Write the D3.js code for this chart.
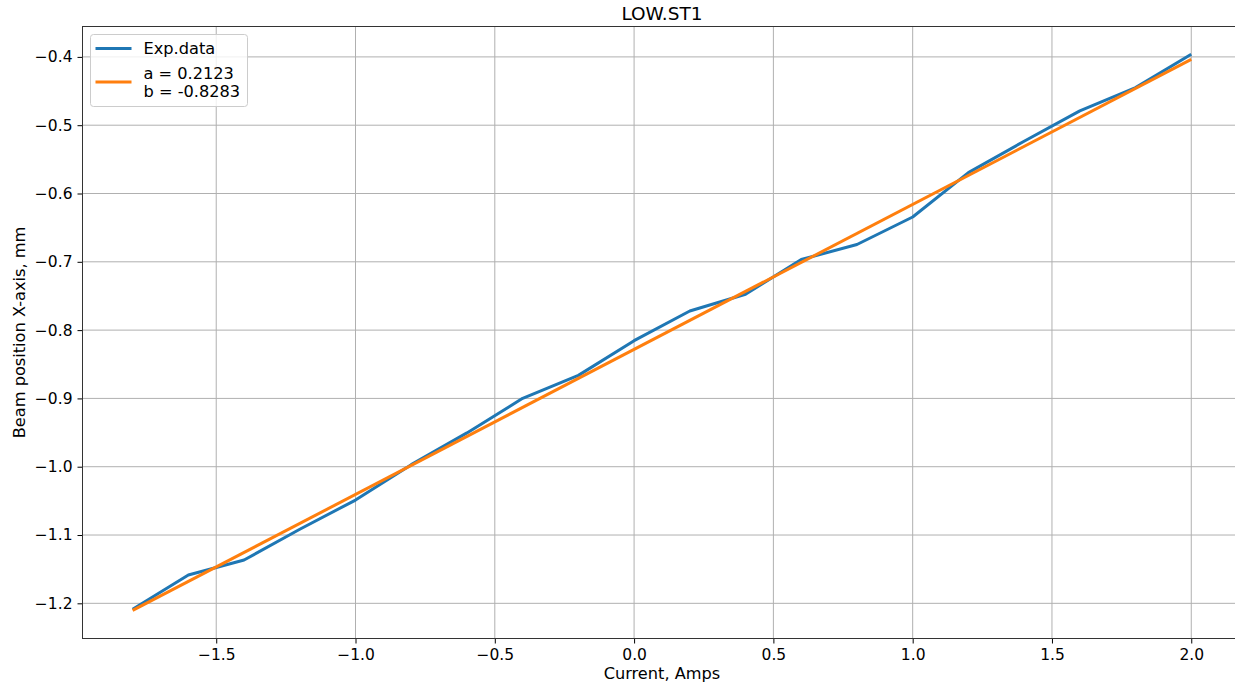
<!DOCTYPE html>
<html lang="en">
  <head>
    <meta charset="UTF-8" />
    <title>LOW.ST1</title>
    <script src="https://d3js.org/d3.v7.min.js"></script>
    <style>
      body {
        margin: 0;
        background: #fff;
        font-family: "DejaVu Sans", sans-serif;
      }
      svg {
        display: block;
      }
      .tick text {
        font-size: 15.5px;
        fill: #000;
      }
    </style>
  </head>
  <body>
    <div id="chart"></div>
    <script>
      // measured data (current in Amps, beam position in mm)
      const current = [
        -1.8, -1.6, -1.4, -1.2, -1.0, -0.8, -0.6, -0.4, -0.2, 0.0, 0.2, 0.4,
        0.6, 0.8, 1.0, 1.2, 1.4, 1.6, 1.8, 2.0,
      ];
      const position = [
        -1.2088, -1.1586, -1.1366, -1.0916, -1.0488, -0.997, -0.9505,
        -0.8999, -0.8663, -0.8155, -0.772, -0.7475, -0.6967, -0.6747,
        -0.6344, -0.5694, -0.5235, -0.479, -0.445, -0.3962,
      ];
      // fitted line end points (a = 0.2123, b = -0.8283)
      const fitX = [-1.8, 2.0];
      const fitY = [-1.2104, -0.4037];
      const fitLabel = ["a = 0.2123", "b = -0.8283"];

      const xTicks = [-1.5, -1.0, -0.5, 0.0, 0.5, 1.0, 1.5, 2.0];
      const yTicks = [-1.2, -1.1, -1.0, -0.9, -0.8, -0.7, -0.6, -0.5, -0.4];

      const W = 1235,
        H = 683;
      const margin = { top: 26.5, left: 82.5, bottom: 44.5 };
      const plotRight = 1241.4;
      const height = H - margin.top - margin.bottom;

      const svg = d3
        .select("#chart")
        .append("svg")
        .attr("width", W)
        .attr("height", H);

      const x = d3.scaleLinear().domain([-1.98, 2.18]).range([margin.left, plotRight]);
      const y = d3
        .scaleLinear()
        .domain([-1.2515, -0.3555])
        .range([margin.top + height, margin.top]);

      const fmt = (d) => d.toFixed(1).replace("-", "\u2212");

      // grid
      svg
        .append("g")
        .selectAll("line")
        .data(xTicks)
        .join("line")
        .attr("x1", (d) => x(d))
        .attr("x2", (d) => x(d))
        .attr("y1", margin.top)
        .attr("y2", margin.top + height)
        .attr("stroke", "#b0b0b0")
        .attr("stroke-width", 1);
      svg
        .append("g")
        .selectAll("line")
        .data(yTicks)
        .join("line")
        .attr("x1", margin.left)
        .attr("x2", plotRight)
        .attr("y1", (d) => y(d))
        .attr("y2", (d) => y(d))
        .attr("stroke", "#b0b0b0")
        .attr("stroke-width", 1);

      // axes
      const xAxis = svg
        .append("g")
        .attr("transform", `translate(0, ${margin.top + height})`)
        .call(
          d3.axisBottom(x).tickValues(xTicks).tickFormat(fmt).tickSize(5).tickPadding(5)
        );
      const yAxis = svg
        .append("g")
        .attr("transform", `translate(${margin.left}, 0)`)
        .call(
          d3.axisLeft(y).tickValues(yTicks).tickFormat(fmt).tickSize(5).tickPadding(5)
        );
      [xAxis, yAxis].forEach((g) => {
        g.select(".domain").remove();
        g.selectAll(".tick line").attr("stroke", "#000").attr("stroke-width", 1);
        g.selectAll("text").attr("font-family", "DejaVu Sans");
      });

      // spines (right one falls outside the picture)
      svg
        .append("rect")
        .attr("x", margin.left)
        .attr("y", margin.top)
        .attr("width", plotRight - margin.left)
        .attr("height", height)
        .attr("fill", "none")
        .attr("stroke", "#333")
        .attr("stroke-width", 1);

      // lines
      const line = d3
        .line()
        .x((d) => x(d[0]))
        .y((d) => y(d[1]));

      svg
        .append("path")
        .datum(d3.zip(current, position))
        .attr("d", line)
        .attr("fill", "none")
        .attr("stroke", "#1f77b4")
        .attr("stroke-width", 3)
        .attr("stroke-linejoin", "round");

      svg
        .append("path")
        .datum(d3.zip(fitX, fitY))
        .attr("d", line)
        .attr("fill", "none")
        .attr("stroke", "#ff7f0e")
        .attr("stroke-width", 3);

      // title and labels
      svg
        .append("text")
        .attr("x", (margin.left + plotRight) / 2)
        .attr("y", 20)
        .attr("text-anchor", "middle")
        .attr("font-size", "18.5px")
        .text("LOW.ST1");

      svg
        .append("text")
        .attr("x", (margin.left + plotRight) / 2)
        .attr("y", 679)
        .attr("text-anchor", "middle")
        .attr("font-size", "16.2px")
        .text("Current, Amps");

      svg
        .append("text")
        .attr("transform", `translate(25, ${margin.top + height / 2}) rotate(-90)`)
        .attr("text-anchor", "middle")
        .attr("font-size", "16.2px")
        .text("Beam position X-axis, mm");

      // legend
      const legend = svg.append("g").attr("transform", "translate(90.5, 34.5)");
      legend
        .append("rect")
        .attr("width", 157)
        .attr("height", 72)
        .attr("rx", 3)
        .attr("fill", "#fff")
        .attr("fill-opacity", 0.8)
        .attr("stroke", "#ccc");
      const items = [
        { color: "#1f77b4", lines: ["Exp.data"], ly: 14 },
        { color: "#ff7f0e", lines: fitLabel, ly: 47.5 },
      ];
      items.forEach((it) => {
        legend
          .append("line")
          .attr("x1", 5)
          .attr("x2", 41)
          .attr("y1", it.ly)
          .attr("y2", it.ly)
          .attr("stroke", it.color)
          .attr("stroke-width", 3);
        const start = it.ly - ((it.lines.length - 1) * 18) / 2;
        it.lines.forEach((t, i) => {
          legend
            .append("text")
            .attr("x", 53)
            .attr("y", start + i * 18)
            .attr("dy", "0.36em")
            .attr("font-size", "16.2px")
            .text(t);
        });
      });
    </script>
  </body>
</html>
